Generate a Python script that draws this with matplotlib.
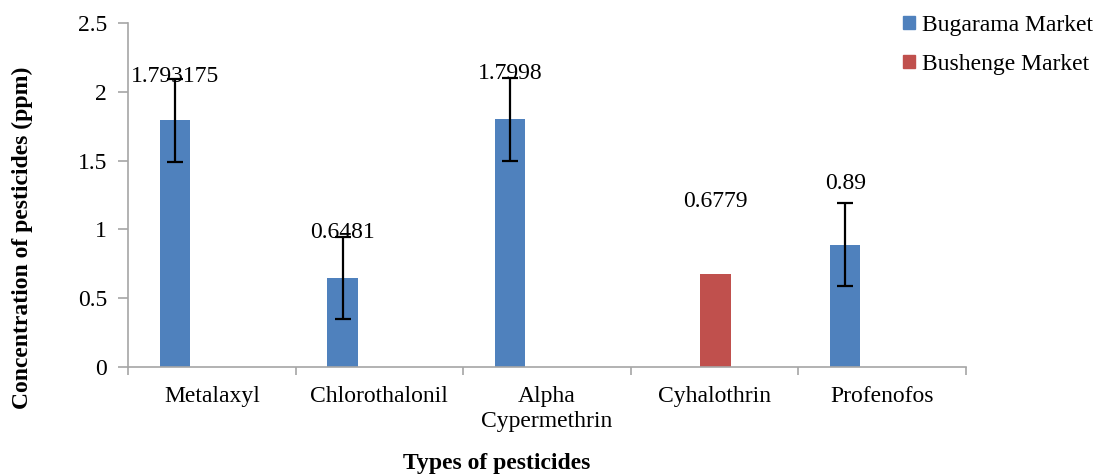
import matplotlib
matplotlib.use("Agg")
import matplotlib.pyplot as plt
import numpy as np
from matplotlib.patches import Patch

pesticides = ['Metalaxyl', 'Chlorothalonil', 'Alpha\nCypermethrin', 'Cyhalothrin', 'Profenofos']
bugarama = [1.793175, 0.6481, 1.7998, 0.0, 0.89]
bushenge = [0.0, 0.0, 0.0, 0.6779, 0.0]
bugarama_err = [0.3, 0.3, 0.3, 0.0, 0.3]
bar_labels = ['1.793175', '0.6481', '1.7998', '0.6779', '0.89']

# where the value labels sit (y of text centre)
label_y = [2.11, 0.975, 2.135, 1.2, 1.335]

blue = '#4F81BD'
red = '#C0504D'
axis_grey = '#A6A6A6'
fs = 17

plt.rcParams['font.family'] = ['Liberation Serif', 'DejaVu Serif']

fig = plt.figure(figsize=(10.98, 4.75), dpi=100)
ax = fig.add_axes([0.1166, 0.2274, 0.7632, 0.7242])

x = np.arange(len(pesticides))
w = 0.18
off_blue = -0.22
off_red = 0.005

b = np.array(bugarama)
r = np.array(bushenge)
ax.bar(x + off_blue, np.where(b > 0, b, np.nan), w, color=blue)
ax.bar(x + off_red, np.where(r > 0, r, np.nan), w, color=red)

m = b > 0
ax.errorbar(x[m] + off_blue, b[m], yerr=np.array(bugarama_err)[m], fmt='none',
            ecolor='black', elinewidth=1.6, capsize=6, capthick=1.6)

label_x = [xi + (off_blue if b[i] > 0 else off_red) for i, xi in enumerate(x)]
for lx, ly, t in zip(label_x, label_y, bar_labels):
    ax.text(lx, ly, t, ha='center', va='center', fontsize=fs, clip_on=False)

ax.set_xlim(-0.5, len(pesticides) - 0.5)
ax.set_ylim(0, 2.5)
ax.set_yticks([0, 0.5, 1, 1.5, 2, 2.5])
ax.set_yticklabels(['0', '0.5', '1', '1.5', '2', '2.5'])
ax.set_xticks(x)
ax.set_xticklabels(pesticides, fontsize=fs, linespacing=1.25)
ax.set_xticks(np.arange(len(pesticides) + 1) - 0.5, minor=True)
ax.tick_params(axis='x', which='major', length=0, pad=14)
ax.tick_params(axis='x', which='minor', length=6, color=axis_grey, width=1.2)
ax.tick_params(axis='y', length=7, color=axis_grey, width=1.2, labelsize=fs, pad=8)

for s in ['top', 'right']:
    ax.spines[s].set_visible(False)
for s in ['left', 'bottom']:
    ax.spines[s].set_color(axis_grey)
    ax.spines[s].set_linewidth(1.2)

fig.text(22 / 1098, 1 - 238 / 475, 'Concentration of pesticides (ppm)', rotation=90,
         ha='center', va='center', fontsize=fs, fontweight='bold')
fig.text(497 / 1098, 1 - 464 / 475, 'Types of pesticides',
         ha='center', va='center', fontsize=fs, fontweight='bold')

handles = [Patch(color=blue), Patch(color=red)]
fig.legend(handles, ['Bugarama Market', 'Bushenge Market'], loc='upper left',
           bbox_to_anchor=(903 / 1098, 1 - 15 / 475), frameon=False, fontsize=fs,
           borderpad=0, borderaxespad=0,
           handlelength=0.5, handleheight=0.5, handletextpad=0.3, labelspacing=0.75)

plt.savefig('out.png', dpi=100)
